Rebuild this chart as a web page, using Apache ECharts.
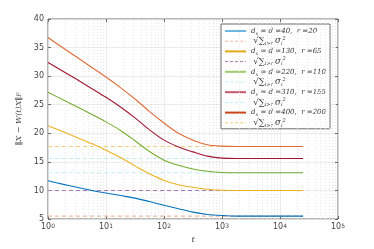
<!DOCTYPE html>
<html><head><meta charset="utf-8">
<script src="https://cdn.jsdelivr.net/npm/echarts@6/dist/echarts.min.js"></script>
<style>html,body{margin:0;padding:0;background:#fff}#c{width:374px;height:249px}</style>
</head><body><div id="c"></div>
<script>
// sample times t
const tVals = [1, 1.778, 3.162, 5.623, 10, 17.78, 31.62, 56.23, 100, 177.8, 316.2, 562.3, 1000, 1778, 3162, 10000, 25000];
// solid curves
const curve40  = [11.7, 11.1, 10.55, 10.0, 9.55, 9.1, 8.65, 8.05, 7.4, 6.8, 6.2, 5.8, 5.6, 5.5, 5.5, 5.5, 5.5];
const curve130 = [21.3, 20.3, 19.25, 18.2, 17.05, 15.75, 14.3, 12.9, 11.75, 11.0, 10.55, 10.2, 10.02, 10.0, 10.0, 10.0, 10.0];
const curve220 = [27.2, 25.9, 24.65, 23.35, 22.0, 20.5, 18.7, 16.8, 15.3, 14.4, 13.75, 13.35, 13.15, 13.1, 13.1, 13.1, 13.1];
const curve310 = [32.4, 30.9, 29.4, 27.85, 26.3, 24.6, 22.7, 20.6, 18.8, 17.6, 16.75, 16.0, 15.65, 15.6, 15.6, 15.6, 15.6];
const curve400 = [36.75, 35.0, 33.3, 31.55, 29.85, 28.0, 26.0, 23.8, 21.8, 20.0, 18.8, 18.0, 17.75, 17.7, 17.7, 17.7, 17.7];
// tail singular value levels
const sigmaLevels = [5.5, 10.0, 13.1, 15.6, 17.7];
const dimLabels = ['40', '130', '220', '310', '400'];
const rankLabels = ['20', '65', '110', '155', '200'];
const tRange = [1, 25000];
const minorTicks = [2,3,4,5,6,7,8,9,20,30,40,50,60,70,80,90,200,300,400,500,600,700,800,900,2000,3000,4000,5000,6000,7000,8000,9000,20000,30000,40000,50000,60000,70000,80000,90000];
const yTicks = [5, 10, 15, 20, 25, 30, 35, 40];

const curves = [curve40, curve130, curve220, curve310, curve400];
const solidColors = ['#0072BD', '#EDB120', '#77AC30', '#A2142F', '#E06A35'];
const legendSolid = ['#6CB6E0', '#E4A817', '#9BCB6A', '#C8566E', '#C8471A'];
const dashColors = ['#F4B9A2', '#A77AB5', '#BFEFFA', '#BFEFFA', '#F4CF7A'];

const series = [];
const legendData = [];
curves.forEach((c, i) => {
  const name = 's' + i;
  series.push({
    name, type: 'line', data: tVals.map((t, k) => [t, c[k]]),
    symbol: 'none', smooth: 0.3, lineStyle: { color: solidColors[i], width: 1.1 }, itemStyle: { color: legendSolid[i] }, z: 5
  });
  legendData.push({ name, itemStyle: { opacity: 0 }, lineStyle: { color: legendSolid[i], width: 2, type: 'solid' } });
  const dn = 'd' + i;
  series.push({
    name: dn, type: 'line', data: tRange.map(t => [t, sigmaLevels[i]]),
    symbol: 'none', lineStyle: { color: dashColors[i], width: 1.1, type: [4, 3] }, itemStyle: { color: dashColors[i] }, z: 3
  });
  legendData.push({ name: dn, itemStyle: { opacity: 0 }, lineStyle: { color: dashColors[i], width: 1, type: [3, 2] } });
});
series.push({
  type: 'line', data: [], silent: true,
  markLine: { silent: true, symbol: 'none', label: { show: false }, animation: false,
    lineStyle: { color: '#e0e0e0', type: [1, 2], width: 0.8 },
    data: minorTicks.map(v => ({ xAxis: v })) }
});

const chart = echarts.init(document.getElementById('c'), null, { renderer: 'canvas' });
chart.setOption({
  animation: false,
  grid: { left: 48, right: 36, top: 19, bottom: 28, show: true, borderColor: '#6b6b6b', borderWidth: 1 },
  legend: {
    orient: 'vertical', left: 221, top: 24, padding: [2, 4, 1, 3], itemGap: 0.2,
    itemWidth: 21, itemHeight: 6, backgroundColor: '#fff', borderColor: '#6b6b6b', borderWidth: 1,
    data: legendData,
    textStyle: { fontFamily: 'DejaVu Serif', fontStyle: 'italic', fontSize: 7, color: '#333', lineHeight: 10,
      rich: { sub: { fontSize: 5, verticalAlign: 'bottom', lineHeight: 10, fontFamily: 'DejaVu Serif', fontStyle: 'italic' },
              sup: { fontSize: 5, verticalAlign: 'top', lineHeight: 10, fontFamily: 'DejaVu Serif', fontStyle: 'italic' },
              big: { fontSize: 8.5, lineHeight: 10, fontFamily: 'DejaVu Serif', color: '#333' } } },
    formatter: name => {
      const i = +name.slice(1);
      if (name[0] === 's') return 'd{sub|x} = d =' + dimLabels[i] + ',  r =' + rankLabels[i];
      return ' {big|√∑}{sub|i>r} {big|σ}{sub|i}{sup|2}';
    }
  },
  xAxis: [{
    type: 'log', logBase: 10, min: 1, max: 100000, position: 'bottom',
    name: 't', nameLocation: 'middle', nameGap: 17,
    nameTextStyle: { fontFamily: 'DejaVu Serif', fontStyle: 'italic', fontSize: 8, color: '#444' },
    axisLine: { show: false }, axisTick: { inside: true, length: 3, lineStyle: { color: '#6b6b6b' } },
    axisLabel: { fontSize: 8, color: '#444', fontFamily: 'DejaVu Sans', margin: 4,
      formatter: v => '10{sup|' + Math.round(Math.log10(v)) + '}',
      rich: { sup: { fontSize: 6, verticalAlign: 'top', color: '#444' } } },
    splitLine: { show: true, lineStyle: { color: '#e6e6e6', width: 0.8 } }
  }, {
    type: 'log', logBase: 10, min: 1, max: 100000, position: 'top',
    axisLine: { show: false }, axisTick: { inside: true, length: 3, lineStyle: { color: '#6b6b6b' } },
    axisLabel: { show: false }, splitLine: { show: false }
  }],
  yAxis: [{
    type: 'value', min: yTicks[0], max: yTicks[yTicks.length - 1], interval: 5,
    name: '‖X − W(t)X‖{sub|F}', nameLocation: 'middle', nameGap: 13, nameRotate: 90,
    nameTextStyle: { fontFamily: 'DejaVu Serif', fontStyle: 'italic', fontSize: 8, color: '#444',
      rich: { sub: { fontSize: 6, verticalAlign: 'bottom', fontFamily: 'DejaVu Serif', fontStyle: 'italic' } } },
    axisLine: { show: false }, axisTick: { show: true, inside: true, length: 3, lineStyle: { color: '#6b6b6b' } },
    axisLabel: { fontSize: 8, color: '#444', fontFamily: 'DejaVu Sans', margin: 4 },
    splitLine: { show: true, lineStyle: { color: '#e6e6e6', width: 0.8 } }
  }, {
    type: 'value', min: yTicks[0], max: yTicks[yTicks.length - 1], interval: 5, position: 'right',
    axisLine: { show: false }, axisTick: { show: true, inside: true, length: 3, lineStyle: { color: '#6b6b6b' } },
    axisLabel: { show: false }, splitLine: { show: false }
  }],
  series
});
</script></body></html>
